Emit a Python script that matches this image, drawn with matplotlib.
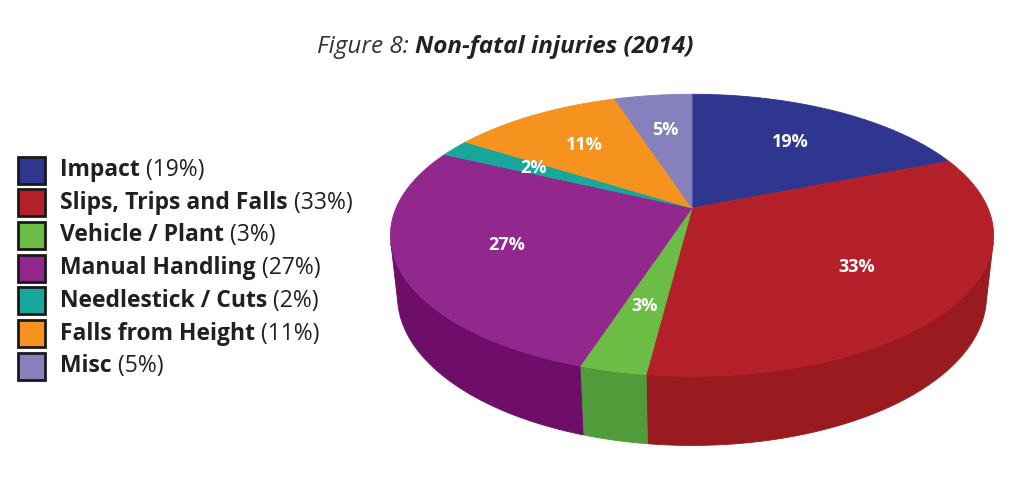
import numpy as np
import matplotlib
matplotlib.use("Agg")
import matplotlib.pyplot as plt
from matplotlib.patches import Polygon, Rectangle

# ---------------- data ----------------
categories = ["Impact", "Slips, Trips and Falls", "Vehicle / Plant",
              "Manual Handling", "Needlestick / Cuts", "Falls from Height", "Misc"]
values = [19, 33, 3, 27, 2, 11, 5]
top_colors = ["#2E3690", "#B5212A", "#6BBD45", "#92278E", "#17A89B", "#F6931E", "#8680BC"]
side_colors = ["#1F2566", "#9A1B1F", "#519C3A", "#6E0E68", "#0F7A70", "#C77314", "#5F5A94"]
title_prefix = "Figure 8: "
title_main = "Non-fatal injuries (2014)"

plt.rcParams['font.family'] = ['Open Sans', 'DejaVu Sans']

W, H = 1024, 487
fig = plt.figure(figsize=(W / 100, H / 100), dpi=100)
ax = fig.add_axes([0, 0, 1, 1])
ax.set_xlim(0, W)
ax.set_ylim(H, 0)
ax.axis('off')

# ---------------- perspective pie geometry (layout) ----------------
apex_x, apex_y = 692.0, 208.0
phi = np.radians(27.3)           # camera tilt
cphi, sphi = np.cos(phi), np.sin(phi)
Dist = 5.18 * cphi               # camera distance (in pie radii)
focal = 1362.0                   # pixels
thick = 0.2336                   # pie thickness (in pie radii)


def proj(theta_deg, r=1.0, z=0.0):
    t = np.radians(np.atleast_1d(theta_deg))
    X, Y = r * np.cos(t), r * np.sin(t)
    depth = Dist + Y * cphi - z * sphi
    sx = focal * X / depth
    sy = focal * (Y * sphi + z * cphi) / depth
    return np.column_stack([apex_x + sx, apex_y - sy])


total = float(sum(values))
fracs = np.array(values) / total
ends = 90 - 360 * np.cumsum(fracs)
starts = np.concatenate([[90], ends[:-1]])

# visible wall range (front-facing side)
t0 = np.degrees(np.arcsin(1.0 / (Dist * cphi)))
vis_lo, vis_hi = -180 + t0, -t0

for s, e, sc in zip(starts, ends, side_colors):
    lo, hi = max(e, vis_lo), min(s, vis_hi)
    if lo < hi:
        th = np.linspace(hi, lo, 120)
        top = proj(th)
        bot = proj(th[::-1], z=-thick)
        ax.add_patch(Polygon(np.vstack([top, bot]), closed=True, facecolor=sc,
                             edgecolor=sc, lw=0.6, zorder=1))

# top face
for s, e, tc in zip(starts, ends, top_colors):
    th = np.linspace(s, e, max(int(abs(s - e)) * 2 + 2, 4))
    pts = np.vstack([[apex_x, apex_y], proj(th)])
    ax.add_patch(Polygon(pts, closed=True, facecolor=tc, edgecolor=tc, lw=0.6, zorder=2))

# percentage labels
for s, e, v in zip(starts, ends, values):
    p = proj((s + e) / 2, r=0.65)[0]
    ax.text(p[0], p[1], f"{v}%", color="white", fontsize=13, fontweight="bold",
            ha="center", va="center", zorder=5)

# legend
txt_color = "#231F20"
for i, (cat, v, tc) in enumerate(zip(categories, values, top_colors)):
    y = 170 + i * 32.7
    ax.add_patch(Rectangle((18, y - 13.5), 27, 27, facecolor=tc, edgecolor="#1a1a1a",
                           lw=2, zorder=3))
    t = ax.text(60, y, cat, fontsize=16.5, fontweight="bold", color=txt_color,
                ha="left", va="center", zorder=3)
    ax.annotate(f" ({v}%)", xy=(1, 0), xycoords=t, fontsize=16.5, color=txt_color,
                ha="left", va="bottom", zorder=3)

# title
t1 = ax.text(0, 47, title_prefix, fontsize=17.5, style="italic", color="#333333",
             ha="left", va="center")
t2 = ax.annotate(title_main, xy=(1, 0), xycoords=t1, fontsize=17.5, style="italic",
                 fontweight="bold", color="#222222", ha="left", va="bottom")
fig.canvas.draw()
r = fig.canvas.get_renderer()
w = t1.get_window_extent(r).width + t2.get_window_extent(r).width
t1.set_x(505 - w / 2)

fig.savefig("out.png", dpi=100, facecolor="white")
